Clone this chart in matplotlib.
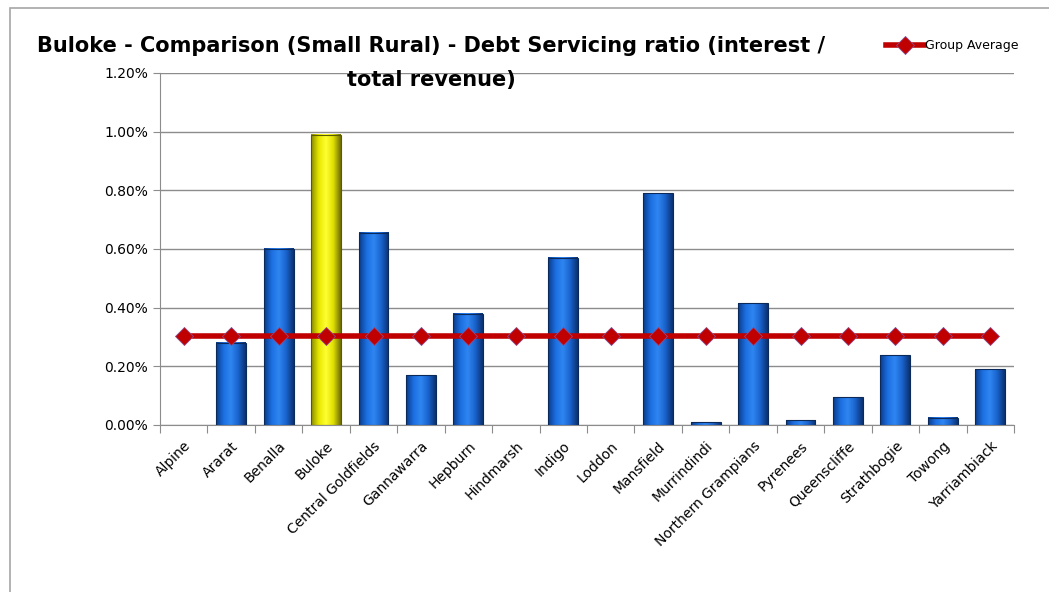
import numpy as np
import matplotlib
matplotlib.use("Agg")
import matplotlib.pyplot as plt
from matplotlib.patches import Rectangle
from matplotlib.colors import LinearSegmentedColormap
from matplotlib.ticker import FuncFormatter, MultipleLocator

councils = ['Alpine', 'Ararat', 'Benalla', 'Buloke', 'Central Goldfields', 'Gannawarra',
            'Hepburn', 'Hindmarsh', 'Indigo', 'Loddon', 'Mansfield', 'Murrindindi',
            'Northern Grampians', 'Pyrenees', 'Queenscliffe', 'Strathbogie', 'Towong',
            'Yarriambiack']
ratio = [0.0, 0.28, 0.60, 0.99, 0.655, 0.17, 0.38, 0.0, 0.57, 0.0, 0.79, 0.01,
         0.415, 0.017, 0.095, 0.238, 0.024, 0.19]
group_avg = [0.303] * len(councils)
highlight = 'Buloke'
title_lines = ['Buloke - Comparison (Small Rural) - Debt Servicing ratio (interest /',
               'total revenue)']

plt.rcParams['font.family'] = ['DejaVu Sans']

fig = plt.figure(figsize=(10.49, 5.92), dpi=100)
fig.patches.append(Rectangle((10 / 1049, -0.1), 1.2, 1 - 8 / 592 + 0.1, transform=fig.transFigure,
                             fill=False, edgecolor='#a6a6a6', linewidth=1.2))
ax = fig.add_axes([160 / 1049, 1 - 425 / 592, 854 / 1049, 352 / 592])

blue = LinearSegmentedColormap.from_list('b', ['#0a3a8a', '#1c6fe0', '#2f86f2', '#1a62cc', '#0b3170'])
yellow = LinearSegmentedColormap.from_list('y', ['#8a8a00', '#e6e600', '#ffff33', '#e0e000', '#6e6e00'])
grad = np.linspace(0, 1, 64).reshape(1, -1)

x = np.arange(len(councils))
w = 0.63
for xi, name, v in zip(x, councils, ratio):
    if v <= 0:
        continue
    cmap = yellow if name == highlight else blue
    ax.imshow(grad, cmap=cmap, aspect='auto', extent=(xi - w / 2, xi + w / 2, 0, v),
              interpolation='bicubic', zorder=2)
    ax.add_patch(Rectangle((xi - w / 2, 0), w, v, fill=False,
                           edgecolor='#0b2a5a' if name != highlight else '#5a5a00',
                           linewidth=0.8, zorder=3))

ax.plot(x, group_avg, color='#c00000', linewidth=4, marker='D', markersize=9,
        markerfacecolor='#c00000', markeredgecolor='#8a4a8a', markeredgewidth=0.6,
        zorder=4, label='Group Average')

ax.set_xlim(-0.5, len(councils) - 0.5)
ax.set_ylim(0, 1.2)
ax.yaxis.set_major_locator(MultipleLocator(0.2))
ax.yaxis.set_major_formatter(FuncFormatter(lambda v, p: f'{v:.2f}%'))
ax.grid(axis='y', color='#8c8c8c', linewidth=1)
ax.set_axisbelow(True)
for s in ['top', 'right']:
    ax.spines[s].set_visible(False)
for s in ['left', 'bottom']:
    ax.spines[s].set_color('#8c8c8c')
ax.tick_params(axis='y', length=5, color='#8c8c8c', labelsize=10, direction='out')
ax.set_xticks(np.arange(len(councils) + 1) - 0.5, minor=False)
ax.set_xticklabels([])
ax.set_xticks(x, minor=True)
ax.set_xticklabels(councils, minor=True, rotation=45, ha='right', rotation_mode='anchor',
                   fontsize=10)
ax.tick_params(axis='x', which='major', length=6, color='#8c8c8c')
ax.tick_params(axis='x', which='minor', length=0, pad=10)

fig.text(431 / 1049, 1 - 46 / 592, title_lines[0],
         ha='center', va='center', fontsize=15, fontweight='bold')
fig.text(431 / 1049, 1 - 80 / 592, title_lines[1],
         ha='center', va='center', fontsize=15, fontweight='bold')

leg = fig.legend(loc='center left', bbox_to_anchor=(875 / 1049, 1 - 46 / 592), frameon=False,
                 fontsize=9, handlelength=3, handletextpad=0.1)

fig.savefig('out.png', dpi=100)
